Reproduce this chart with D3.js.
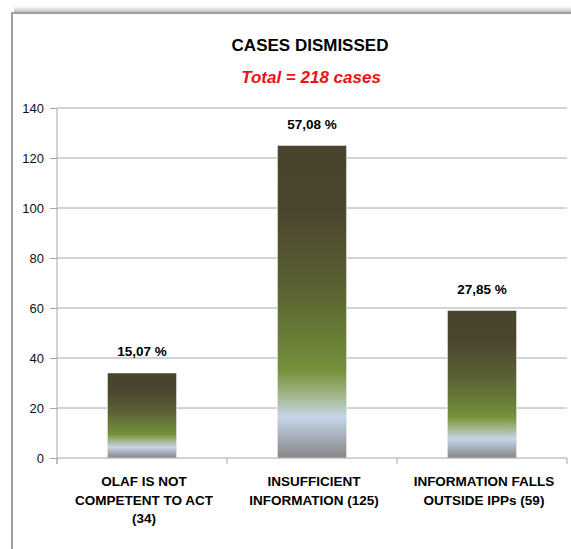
<html>
<head>
<script src="https://d3js.org/d3.v7.min.js"></script>
<style>
  body { margin: 0; background: #fff; }
  text { font-family: "Liberation Sans", Arial, sans-serif; }
</style>
</head>
<body>
<svg id="chart" width="571" height="549"></svg>
<script>
    // data
    const categories = ["OLAF IS NOT\nCOMPETENT TO ACT\n(34)", "INSUFFICIENT\nINFORMATION (125)", "INFORMATION FALLS\nOUTSIDE IPPs (59)"];
    const caseCounts = [34, 125, 59];
    const percentLabels = ["15,07 %", "57,08 %", "27,85 %"];
    const yTicks = [0, 20, 40, 60, 80, 100, 120, 140];

    const svg = d3.select("#chart");
    const defs = svg.append("defs");

    // bar fill: dark olive top -> green -> pale blue -> grey base
    const grad = defs.append("linearGradient")
        .attr("id", "barFill")
        .attr("x1", 0).attr("y1", 0).attr("x2", 0).attr("y2", 1);
    [[0, "#4a432e"], [0.2, "#4b452f"], [0.46, "#5b6233"], [0.72, "#74913b"],
     [0.79, "#9db27e"], [0.87, "#c5d5e9"], [1, "#858585"]]
        .forEach(s => grad.append("stop").attr("offset", s[0]).attr("stop-color", s[1]));

    const shade = defs.append("linearGradient")
        .attr("id", "shade")
        .attr("x1", 0).attr("y1", 0).attr("x2", 0).attr("y2", 1);
    shade.append("stop").attr("offset", 0).attr("stop-color", "#fff");
    shade.append("stop").attr("offset", 1).attr("stop-color", "#b8b8b8");

    // outer frame (runs off the right and bottom edge)
    svg.append("rect").attr("x", 14).attr("y", 6).attr("width", 600).attr("height", 7)
        .attr("fill", "url(#shade)");
    svg.append("rect")
        .attr("x", 12).attr("y", 13).attr("width", 620).attr("height", 600)
        .attr("fill", "#fff").attr("stroke", "#a0a0a0").attr("stroke-width", 2);

    const x = d3.scaleBand()
        .domain(categories)
        .range([57, 567])
        .paddingInner(0.594)
        .paddingOuter(0.297);

    const y = d3.scaleLinear().domain([0, 140]).range([458, 108]);

    // gridlines
    svg.append("g")
        .selectAll("line")
        .data(yTicks.filter(d => d > 0))
        .join("line")
        .attr("x1", 57).attr("x2", 567)
        .attr("y1", d => y(d)).attr("y2", d => y(d))
        .attr("stroke", "#a6a6a6").attr("stroke-width", 1);

    // y axis
    const yAxis = svg.append("g")
        .attr("transform", "translate(57,0)")
        .call(d3.axisLeft(y).tickValues(yTicks).tickSize(7).tickPadding(6));
    yAxis.select(".domain").attr("stroke", "#a6a6a6").attr("d", "M0,108V464");
    yAxis.selectAll(".tick line").attr("stroke", "#a6a6a6");
    yAxis.selectAll(".tick text")
        .attr("font-size", 13).attr("fill", "#111")
        .style("font-family", "'Liberation Sans', Arial, sans-serif");

    // bars
    svg.append("g")
        .selectAll("rect")
        .data(caseCounts)
        .join("rect")
        .attr("x", (d, i) => x(categories[i]))
        .attr("width", x.bandwidth())
        .attr("y", d => y(d))
        .attr("height", d => y(0) - y(d))
        .attr("fill", "url(#barFill)")
        .attr("stroke", "#e8e8e0").attr("stroke-width", 0.6);

    // x axis
    const step = x.step();
    svg.append("line")
        .attr("x1", 57).attr("x2", 567).attr("y1", y(0)).attr("y2", y(0))
        .attr("stroke", "#a6a6a6");
    svg.append("g")
        .selectAll("line")
        .data(d3.range(categories.length + 1))
        .join("line")
        .attr("x1", i => 57 + i * step).attr("x2", i => 57 + i * step)
        .attr("y1", y(0)).attr("y2", y(0) + 6)
        .attr("stroke", "#a6a6a6");

    // value labels
    svg.append("g")
        .selectAll("text")
        .data(percentLabels)
        .join("text")
        .attr("x", (d, i) => x(categories[i]) + x.bandwidth() / 2)
        .attr("y", (d, i) => y(caseCounts[i]) - 17)
        .attr("text-anchor", "middle")
        .attr("font-size", 13.5).attr("font-weight", "bold")
        .text(d => d);

    // category labels
    svg.append("g")
        .selectAll("text")
        .data(categories)
        .join("text")
        .attr("text-anchor", "middle")
        .attr("font-size", 13.5).attr("font-weight", "bold")
        .selectAll("tspan")
        .data(d => d.split("\n").map(t => ({ t, c: d })))
        .join("tspan")
        .attr("x", d => x(d.c) + x.bandwidth() / 2 + 2)
        .attr("y", (d, i) => 486 + i * 18.5)
        .text(d => d.t);

    // titles
    svg.append("text")
        .attr("x", 310).attr("y", 51)
        .attr("text-anchor", "middle")
        .attr("font-size", 17).attr("font-weight", "bold")
        .text("CASES DISMISSED");
    svg.append("text")
        .attr("x", 311).attr("y", 83)
        .attr("text-anchor", "middle")
        .attr("font-size", 17).attr("font-weight", "bold").attr("font-style", "italic")
        .attr("fill", "#ee1111")
        .text("Total = 218 cases");
</script>
</body>
</html>
